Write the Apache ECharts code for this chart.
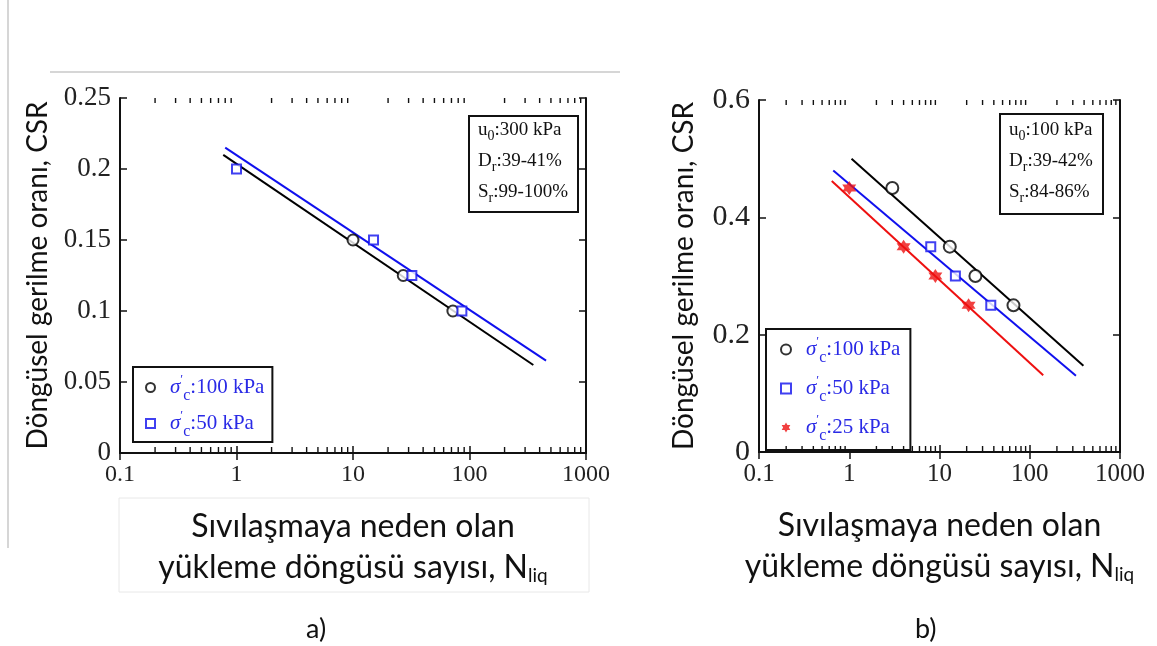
<!DOCTYPE html>
<html>
<head>
<meta charset="utf-8">
<script src="https://cdn.jsdelivr.net/npm/echarts@6/dist/echarts.min.js"></script>
<style>
  html, body { margin: 0; padding: 0; background: #fff; }
  #chart { width: 1157px; height: 646px; }
</style>
</head>
<body>
<div id="chart"></div>
<script>
// ---- panel a) u0 = 300 kPa ----
const aCircleX = [10, 27, 72]
const aCircleY = [0.15, 0.125, 0.1]
const aSquareX = [1, 15, 32, 86]
const aSquareY = [0.2, 0.15, 0.125, 0.1]
const aFitBlackX = [0.77, 353]
const aFitBlackY = [0.21, 0.062]
const aFitBlueX = [0.8, 454]
const aFitBlueY = [0.215, 0.065]

// ---- panel b) u0 = 100 kPa ----
const bCircleX = [3, 13, 25, 66]
const bCircleY = [0.45, 0.35, 0.3, 0.25]
const bSquareX = [8, 15, 37]
const bSquareY = [0.35, 0.3, 0.25]
const bStarX = [1, 4, 9, 21]
const bStarY = [0.45, 0.35, 0.3, 0.25]
const bFitBlackX = [1.06, 393]
const bFitBlackY = [0.5, 0.147]
const bFitBlueX = [0.665, 325]
const bFitBlueY = [0.48, 0.13]
const bFitRedX = [0.64, 141]
const bFitRedY = [0.462, 0.131]

const xTickLabels = ['0.1', '1', '10', '100', '1000']

const yTitle = 'Döngüsel gerilme oranı, CSR'
const xTitle = 'Sıvılaşmaya neden olan\nyükleme döngüsü sayısı, {n|N}{sub|liq}'

// minor log ticks 2..9 in every decade
const minorTicks = []
for (let d = -1; d < 3; d++) {
  for (let k = 2; k < 10; k++) minorTicks.push(k * Math.pow(10, d))
}

const star = 'path://M0,-10 L2.89,-5 L8.66,-5 L5.77,0 L8.66,5 L2.89,5 L0,10 L-2.89,5 L-8.66,5 L-5.77,0 L-8.66,-5 L-2.89,-5 Z'

const serif = 'Liberation Serif'
const sans = 'Lato'
const blueText = '#2a2ae6'

const pairs = (xs, ys) => xs.map((x, i) => [x, ys[i]])

const legendNames = {
  'a100': '100 kPa', 'a50': '50 kPa',
  'b100': '100 kPa', 'b50': '50 kPa', 'b25': '25 kPa'
}

const legendRich = {
  sig: { fontFamily: serif, fontStyle: 'italic', fontSize: 21, color: blueText, padding: [0, 0, 0, 10], lineHeight: 30 },
  pr: { fontFamily: serif, fontSize: 13, color: blueText, padding: [0, 0, 16, 0] },
  c: { fontFamily: serif, fontSize: 16, color: blueText, padding: [17, 0, 0, 0] },
  t: { fontFamily: serif, fontSize: 21, color: blueText, lineHeight: 30 }
}

function legendFmt(name) {
  return '{sig|σ}{pr|\u2032}{c|c}{t|:' + legendNames[name] + '}'
}

const infoRich = {
  m: { fontFamily: serif, fontSize: 19, fontWeight: 'normal', color: '#111', lineHeight: 31 },
  s: { fontFamily: serif, fontSize: 14, fontWeight: 'normal', color: '#111', padding: [12, 0, 0, 0] }
}

function info(u, d, s) {
  return '{m|u}{s|0}{m|:' + u + '}\n{m|D}{s|r}{m|:' + d + '}\n{m|S}{s|r}{m|:' + s + '}'
}

function xAxes(grid, labelSize, nameGap) {
  const major = {
    type: 'log', logBase: 10, min: 0.1, max: 1000, gridIndex: grid,
    axisLine: { lineStyle: { color: '#111', width: 2 } },
    axisTick: { inside: true, length: 7, lineStyle: { color: '#111', width: 1.5 } },
    splitLine: { show: false }
  }
  return [
    Object.assign({}, major, {
      position: 'bottom',
      axisLabel: {
        fontFamily: serif, fontSize: labelSize, color: '#222', margin: 10,
        formatter: v => xTickLabels[Math.round(Math.log10(v)) + 1] || ''
      },
      name: xTitle,
      nameLocation: 'middle',
      nameGap: nameGap,
      nameTextStyle: {
        fontFamily: sans, fontSize: 32, color: '#111', lineHeight: 41,
        rich: {
          n: { fontFamily: sans, fontSize: 32, color: '#111', lineHeight: 41 },
          sub: { fontFamily: sans, fontSize: 19, color: '#111', padding: [16, 0, 0, 0] }
        }
      }
    }),
    Object.assign({}, major, { position: 'top', axisLabel: { show: false } })
  ]
}

function yAxes(grid, max, interval, labelSize, nameGap) {
  const base = {
    type: 'value', min: 0, max: max, interval: interval, gridIndex: grid,
    axisLine: { show: true, lineStyle: { color: '#111', width: 2 } },
    axisTick: { show: true, inside: true, length: 7, lineStyle: { color: '#111', width: 1.5 } },
    splitLine: { show: false }
  }
  return [
    Object.assign({}, base, {
      position: 'left',
      axisLabel: { fontFamily: serif, fontSize: labelSize, color: '#222', margin: 9 },
      name: yTitle,
      nameLocation: 'middle',
      nameRotate: 90,
      nameGap: nameGap,
      nameTextStyle: { fontFamily: sans, fontSize: 28, color: '#111' }
    }),
    Object.assign({}, base, { position: 'right', axisLabel: { show: false } })
  ]
}

// short inward minor ticks on top and bottom edges, placed through the log axis
function minorTickSeries(xi, yi) {
  return {
    type: 'custom',
    xAxisIndex: xi,
    yAxisIndex: yi,
    silent: true,
    clip: false,
    zlevel: 1,
    z: 10,
    data: minorTicks.map(v => [v]),
    encode: { x: 0 },
    renderItem(params, api) {
      const cs = params.coordSys
      const x = api.coord([api.value(0), 0])[0]
      const bottom = cs.y + cs.height
      return {
        type: 'group',
        children: [
          { type: 'rect', shape: { x: x - 0.7, y: bottom - 6, width: 1.4, height: 6 }, style: { fill: '#111' } },
          { type: 'rect', shape: { x: x - 0.7, y: cs.y, width: 1.4, height: 5 }, style: { fill: '#111' } }
        ]
      }
    }
  }
}

function scatter(name, x, y, xi, yi, symbol, size, color, filled) {
  return {
    name: name,
    type: 'scatter',
    xAxisIndex: xi,
    yAxisIndex: yi,
    symbol: symbol,
    symbolSize: size,
    itemStyle: filled ? { color: color } : { color: color, borderColor: color, borderWidth: 2 },
    data: pairs(x, y),
    z: 5
  }
}

function fit(name, x, y, xi, yi, color) {
  return {
    name: name,
    type: 'line',
    xAxisIndex: xi,
    yAxisIndex: yi,
    symbol: 'none',
    lineStyle: { color: color, width: 2 },
    data: pairs(x, y),
    z: 3
  }
}

const chart = echarts.init(document.getElementById('chart'))

chart.setOption({
  backgroundColor: '#fff',
  animation: false,
  title: [
    {
      text: info('300 kPa', '39-41%', '99-100%'),
      left: 469, top: 110,
      padding: [5, 10, 7, 9],
      borderColor: '#111', borderWidth: 2,
      textStyle: { fontWeight: 'normal', rich: infoRich }
    },
    {
      text: info('100 kPa', '39-42%', '84-86%'),
      left: 1000, top: 108,
      padding: [7, 10, 9, 9],
      borderColor: '#111', borderWidth: 2,
      textStyle: { fontWeight: 'normal', rich: infoRich }
    },
    { text: 'a)', left: 301, top: 611, textStyle: { fontFamily: sans, fontSize: 27, fontWeight: 'normal', color: '#111' } },
    { text: 'b)', left: 910, top: 611, textStyle: { fontFamily: sans, fontSize: 27, fontWeight: 'normal', color: '#111' } }
  ],
  legend: [
    {
      data: ['a100', 'a50'],
      orient: 'vertical',
      left: 133, top: 367,
      padding: [6, 8, 2, 12],
      itemGap: 5,
      itemWidth: 9, itemHeight: 9,
      itemStyle: { borderWidth: 2.5 },
      borderColor: '#111', borderWidth: 2,
      backgroundColor: '#fff',
      formatter: legendFmt,
      textStyle: { rich: legendRich }
    },
    {
      data: ['b100', 'b50', 'b25'],
      orient: 'vertical',
      left: 766, top: 329,
      padding: [6, 10, 6, 14],
      itemGap: 8,
      itemWidth: 10, itemHeight: 10,
      itemStyle: { borderWidth: 2.5 },
      borderColor: '#111', borderWidth: 2,
      backgroundColor: '#fff',
      formatter: legendFmt,
      textStyle: { rich: legendRich }
    }
  ],
  grid: [
    { left: 120, top: 98, width: 466, height: 355 },
    { left: 759, top: 100, width: 361, height: 352 }
  ],
  xAxis: [].concat(xAxes(0, 24, 53), xAxes(1, 25, 53)),
  yAxis: [].concat(yAxes(0, 0.25, 0.05, 27, 68), yAxes(1, 0.6, 0.2, 30, 61)),
  series: [
    minorTickSeries(0, 0),
    fit('a fit 100', aFitBlackX, aFitBlackY, 0, 0, '#000'),
    fit('a fit 50', aFitBlueX, aFitBlueY, 0, 0, '#1010ee'),
    scatter('a100', aCircleX, aCircleY, 0, 0, 'emptyCircle', 11, '#000', false),
    scatter('a50', aSquareX, aSquareY, 0, 0, 'emptyRect', 9, '#1010ee', false),

    minorTickSeries(2, 2),
    fit('b fit 100', bFitBlackX, bFitBlackY, 2, 2, '#000'),
    fit('b fit 50', bFitBlueX, bFitBlueY, 2, 2, '#1010ee'),
    fit('b fit 25', bFitRedX, bFitRedY, 2, 2, '#ee1010'),
    scatter('b100', bCircleX, bCircleY, 2, 2, 'emptyCircle', 12, '#000', false),
    scatter('b50', bSquareX, bSquareY, 2, 2, 'emptyRect', 9, '#1010ee', false),
    scatter('b25', bStarX, bStarY, 2, 2, star, 14, '#ee1010', true)
  ],
  graphic: [
    { type: 'line', shape: { x1: 8, y1: 0, x2: 8, y2: 548 }, style: { stroke: '#c8c8c8', lineWidth: 1.5 }, silent: true },
    { type: 'line', shape: { x1: 50, y1: 72, x2: 620, y2: 72 }, style: { stroke: '#c8c8c8', lineWidth: 1.5 }, silent: true },
    { type: 'rect', shape: { x: 119, y: 498, width: 470, height: 94 }, style: { fill: 'none', stroke: '#e8e8e8', lineWidth: 1 }, silent: true }
  ]
})
</script>
</body>
</html>
